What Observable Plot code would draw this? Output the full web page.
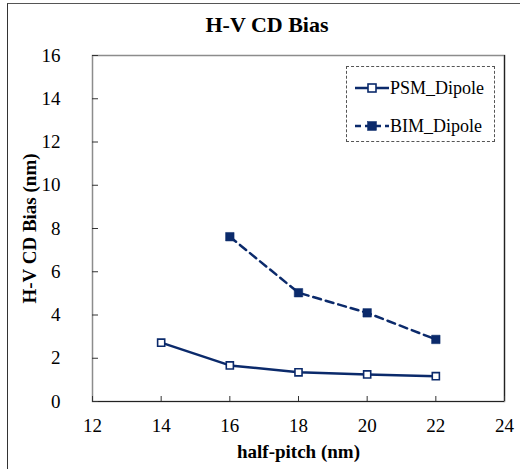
<!DOCTYPE html>
<html>
<head>
<meta charset="utf-8">
<script src="https://cdn.jsdelivr.net/npm/d3@7"></script>
<script src="https://cdn.jsdelivr.net/npm/@observablehq/plot@0.6"></script>
<style>
  html, body { margin: 0; padding: 0; background: #fff; }
  #wrap { position: relative; width: 520px; height: 469px; overflow: hidden; font-family: 'Liberation Serif', serif; }
  #border { position: absolute; left: 7px; top: 3px; right: -5px; bottom: -5px; border-left: 1px solid #333; border-top: 1px solid #555; }
  #title { position: absolute; left: 0; width: 534px; top: 12px; text-align: center; font-family: 'Liberation Serif', serif; font-weight: bold; font-size: 22px; line-height: 26px; color: #000; }
  #legend { position: absolute; left: 346px; top: 66px; width: 149px; height: 76px; border: 1px dashed #555; box-sizing: border-box; }
  .entry { position: absolute; left: 8px; height: 22px; display: flex; align-items: center; font-family: 'Liberation Serif', serif; font-size: 18px; color: #000; }
  .entry svg { margin-right: 1px; }
  #chart { position: absolute; left: 0; top: 0; }
  #chart svg, #chart svg text { font-family: 'Liberation Serif', serif !important; }
</style>
</head>
<body>
<div id="wrap">
  <div id="border"></div>
  <div id="chart"></div>
  <div id="title"></div>
  <div id="legend"></div>
</div>
<script>
const titleText = "H-V CD Bias";
const xLabel = "half-pitch (nm)";
const yLabel = "H-V CD Bias (nm)";
const seriesNames = ["PSM_Dipole", "BIM_Dipole"];
const psmPitch = [14, 16, 18, 20, 22];
const psmBias = [2.72, 1.67, 1.35, 1.25, 1.17];
const bimPitch = [16, 18, 20, 22];
const bimBias = [7.62, 5.03, 4.10, 2.87];
const xTicks = [12, 14, 16, 18, 20, 22, 24];
const yTicks = [0, 2, 4, 6, 8, 10, 12, 14, 16];
const xDomain = [12, 24];
const yDomain = [0, 16];

const navy = "#0b2a6b";

const psm = psmPitch.map((x, i) => ({x, y: psmBias[i]}));
const bim = bimPitch.map((x, i) => ({x, y: bimBias[i]}));

document.getElementById("title").textContent = titleText;

const chart = Plot.plot({
  width: 520,
  height: 469,
  marginLeft: 92,
  marginRight: 16,
  marginTop: 55,
  marginBottom: 68,
  style: { fontFamily: "'Liberation Serif', serif", fontSize: "19px", color: "#000", background: "transparent" },
  x: { domain: xDomain },
  y: { domain: yDomain },
  marks: [
    Plot.frame({ stroke: "#8c8c8c", strokeWidth: 1.5 }),
    Plot.ruleY([yDomain[0]], { stroke: "#222", strokeWidth: 1.2 }),
    Plot.ruleX([xDomain[1]], { stroke: "#222", strokeWidth: 1.2 }),
    Plot.axisX({ ticks: xTicks, tickSize: -5, tickPadding: 22, tickFormat: d => String(d), label: xLabel, labelAnchor: "center", labelArrow: "none", labelOffset: 56, stroke: "#333", fontSize: 19 }),
    Plot.axisY({ ticks: yTicks, tickSize: -6, tickPadding: 38, tickFormat: d => String(d), label: yLabel, labelAnchor: "center", labelArrow: "none", labelOffset: 70, stroke: "#333", fontSize: 19 }),
    Plot.line(psm, { x: "x", y: "y", stroke: navy, strokeWidth: 2.5 }),
    Plot.line(bim, { x: "x", y: "y", stroke: navy, strokeWidth: 2.5, strokeDasharray: "8,5" }),
    Plot.dot(psm, { x: "x", y: "y", symbol: "square", r: 4, fill: "white", stroke: navy, strokeWidth: 1.6 }),
    Plot.dot(bim, { x: "x", y: "y", symbol: "square", r: 4.8, fill: navy, stroke: navy, strokeWidth: 0.5 })
  ]
});
chart.querySelectorAll("g[aria-label='x-axis label'] text, g[aria-label='y-axis label'] text").forEach(t => {
  t.setAttribute("font-weight", "bold");
});
document.getElementById("chart").appendChild(chart);

const legend = document.getElementById("legend");
const rowTops = [10, 48];
seriesNames.forEach((name, i) => {
  const e = document.createElement("div");
  e.className = "entry";
  e.style.top = rowTops[i] + "px";
  const filled = i === 1;
  e.innerHTML = `<svg width="34" height="14"><line x1="0" x2="34" y1="7" y2="7" stroke="${navy}" stroke-width="2.5" ${filled ? 'stroke-dasharray="6,4"' : ''}></line><rect x="${filled ? 12.5 : 13}" y="${filled ? 2.5 : 3}" width="${filled ? 9 : 8}" height="${filled ? 9 : 8}" fill="${filled ? navy : 'white'}" stroke="${navy}" stroke-width="${filled ? 0.5 : 1.6}"></rect></svg><span>${name}</span>`;
  legend.appendChild(e);
});
</script>
</body>
</html>
